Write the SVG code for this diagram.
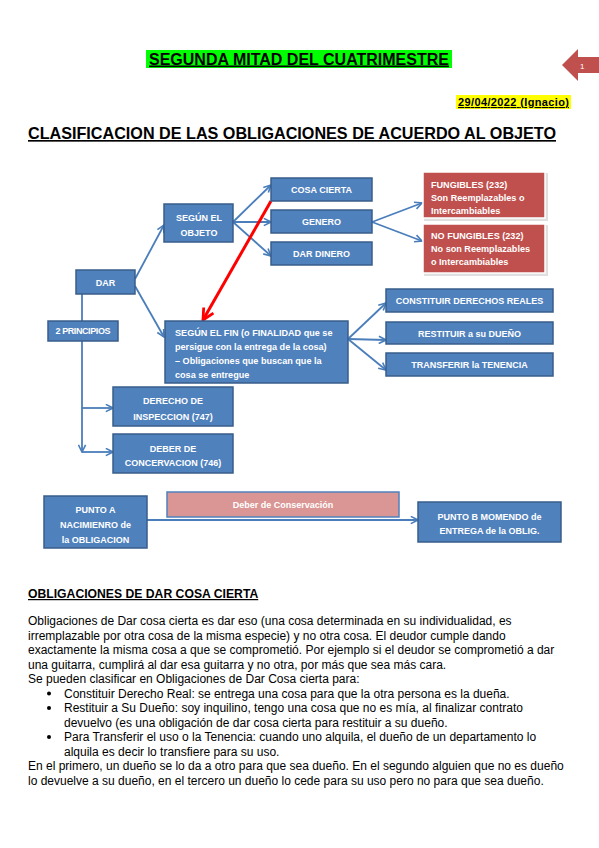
<svg xmlns="http://www.w3.org/2000/svg" width="599" height="848" viewBox="0 0 599 848">
<defs>
<style>
.bx{fill:#4f81bd;stroke:#385d8a;stroke-width:1.5}
.rd{fill:#c0504d;stroke:#ffffff;stroke-width:1.5}
.bt{font-family:"Liberation Sans",Arial,sans-serif;font-weight:bold;font-size:9px;fill:#ffffff;text-anchor:middle}
.lt{font-family:"Liberation Sans",Arial,sans-serif;font-weight:bold;font-size:9.1px;fill:#ffffff}
.cn{fill:none;stroke:#4a7ebb;stroke-width:1.8}
.body{font-family:"Liberation Sans",Arial,sans-serif;font-size:12px;fill:#000000}
.hd{font-family:"Liberation Sans",Arial,sans-serif;font-weight:bold;fill:#000000;text-decoration:underline}
</style>
<marker id="ab" viewBox="0 0 10 10" refX="9" refY="5" markerWidth="9" markerHeight="9" markerUnits="userSpaceOnUse" orient="auto">
<path d="M1,1 L9,5 L1,9" fill="none" stroke="#4a7ebb" stroke-width="1.8"/>
</marker>
<marker id="ar" viewBox="0 0 10 10" refX="9" refY="5" markerWidth="14" markerHeight="14" markerUnits="userSpaceOnUse" orient="auto">
<path d="M1,1 L9,5 L1,9" fill="none" stroke="#ff0000" stroke-width="2"/>
</marker>
</defs>
<rect width="599" height="848" fill="#ffffff"/>

<g id="header">
<rect x="146" y="50" width="306" height="18" fill="#00ff00"/>
<text class="hd" x="149" y="64.5" font-size="16" textLength="300" lengthAdjust="spacingAndGlyphs">SEGUNDA MITAD DEL CUATRIMESTRE</text>
<polygon points="562,65 578,49 578,57 599,57 599,73 578,73 578,81" fill="#c0504d"/>
<text x="580" y="68.5" font-family="Liberation Sans,Arial,sans-serif" font-size="8" fill="#ffffff">1</text>
<rect x="456" y="95" width="115" height="14" fill="#ffff00"/>
<text class="hd" x="458" y="106" font-size="11" textLength="111">29/04/2022 (Ignacio)</text>
<text class="hd" x="28" y="139" font-size="16.5" textLength="528" lengthAdjust="spacingAndGlyphs">CLASIFICACION DE LAS OBLIGACIONES DE ACUERDO AL OBJETO</text>
</g>

<g id="connectors">
<line class="cn" x1="135" y1="279" x2="164" y2="225" marker-end="url(#ab)"/>
<line class="cn" x1="135" y1="286" x2="164" y2="337" marker-end="url(#ab)"/>
<line class="cn" x1="233" y1="222" x2="271" y2="185" marker-end="url(#ab)"/>
<line class="cn" x1="233" y1="222" x2="271" y2="222" marker-end="url(#ab)"/>
<line class="cn" x1="233" y1="222" x2="271" y2="256" marker-end="url(#ab)"/>
<line class="cn" x1="372" y1="222" x2="422" y2="203" marker-end="url(#ab)"/>
<line class="cn" x1="372" y1="222" x2="422" y2="241" marker-end="url(#ab)"/>
<line class="cn" x1="348" y1="339" x2="386" y2="303" marker-end="url(#ab)"/>
<line class="cn" x1="348" y1="339" x2="386" y2="340" marker-end="url(#ab)"/>
<line class="cn" x1="348" y1="339" x2="386" y2="370" marker-end="url(#ab)"/>
<line class="cn" x1="82" y1="294" x2="82" y2="452" marker-end="url(#ab)"/>
<line class="cn" x1="82" y1="408" x2="113" y2="408" marker-end="url(#ab)"/>
<line class="cn" x1="82" y1="452" x2="113" y2="452" marker-end="url(#ab)"/>
<line class="cn" x1="147" y1="520" x2="418" y2="520" marker-end="url(#ab)"/>
<line x1="271" y1="201" x2="203" y2="320" stroke="#ff0000" stroke-width="3" marker-end="url(#ar)"/>
</g>

<g id="dar"><rect class="bx" x="76" y="270" width="59" height="24"/><text class="bt" x="105.5" y="285.5">DAR</text></g>
<g id="principios"><rect class="bx" x="48" y="321" width="70" height="20"/><text class="bt" x="83" y="334" font-size="7" textLength="55">2 PRINCIPIOS</text></g>
<g id="segun-objeto"><rect class="bx" x="164" y="204" width="69" height="38"/><text class="bt" x="199" y="220.5">SEGÚN EL</text><text class="bt" x="199" y="235.5">OBJETO</text></g>
<g id="cosa-cierta"><rect class="bx" x="271" y="178" width="101" height="23"/><text class="bt" x="321.5" y="193">COSA CIERTA</text></g>
<g id="genero"><rect class="bx" x="271" y="210" width="101" height="23"/><text class="bt" x="321.5" y="225">GENERO</text></g>
<g id="dar-dinero"><rect class="bx" x="271" y="242" width="101" height="23"/><text class="bt" x="321.5" y="257">DAR DINERO</text></g>
<g id="fungibles">
<rect x="424" y="173" width="124" height="48" fill="#bfbfbf" opacity="0.5"/>
<rect class="rd" x="423" y="172" width="122" height="46"/>
<text class="lt" x="431" y="188">FUNGIBLES (232)</text>
<text class="lt" x="431" y="201">Son Reemplazables o</text>
<text class="lt" x="431" y="214">Intercambiables</text>
</g>
<g id="no-fungibles">
<rect x="424" y="225" width="124" height="51" fill="#bfbfbf" opacity="0.5"/>
<rect class="rd" x="423" y="224" width="122" height="49"/>
<text class="lt" x="431" y="239">NO FUNGIBLES (232)</text>
<text class="lt" x="431" y="252">No son Reemplazables</text>
<text class="lt" x="431" y="265">o Intercambiables</text>
</g>
<g id="segun-fin">
<rect class="bx" x="165" y="321" width="183" height="62"/>
<text class="lt" x="175" y="336">SEGÚN EL FIN (o FINALIDAD que se</text>
<text class="lt" x="175" y="350">persigue con la entrega de la cosa)</text>
<text class="lt" x="175" y="364">– Obligaciones que buscan que la</text>
<text class="lt" x="175" y="378">cosa se entregue</text>
</g>
<g id="constituir"><rect class="bx" x="386" y="289" width="167" height="23"/><text class="bt" x="469.5" y="304">CONSTITUIR DERECHOS REALES</text></g>
<g id="restituir"><rect class="bx" x="386" y="322" width="167" height="22"/><text class="bt" x="469.5" y="336.5">RESTITUIR a su DUEÑO</text></g>
<g id="transferir"><rect class="bx" x="386" y="353" width="167" height="23"/><text class="bt" x="469.5" y="368">TRANSFERIR la TENENCIA</text></g>
<g id="derecho-inspeccion"><rect class="bx" x="113" y="387" width="120" height="39"/><text class="bt" x="173" y="404">DERECHO DE</text><text class="bt" x="173" y="419.5">INSPECCION (747)</text></g>
<g id="deber-concervacion"><rect class="bx" x="113" y="434" width="120" height="39"/><text class="bt" x="173" y="451.5">DEBER DE</text><text class="bt" x="173" y="465.5">CONCERVACION (746)</text></g>
<g id="punto-a"><rect class="bx" x="44" y="496" width="103" height="52"/><text class="bt" x="95.5" y="513">PUNTO A</text><text class="bt" x="95.5" y="528">NACIMIENRO de</text><text class="bt" x="95.5" y="543">la OBLIGACION</text></g>
<g id="deber-conservacion"><rect x="167" y="492" width="232" height="25" fill="#d99694" stroke="#4f81bd" stroke-width="1.5"/><text class="bt" x="283" y="508" font-weight="normal" fill="#fdf0f0">Deber de Conservación</text></g>
<g id="punto-b"><rect class="bx" x="418" y="502" width="143" height="40"/><text class="bt" x="489.5" y="520">PUNTO B MOMENDO de</text><text class="bt" x="489.5" y="534">ENTREGA  de la OBLIG.</text></g>

<g id="texto">
<text class="hd" x="28" y="598" font-size="12.2">OBLIGACIONES DE DAR COSA CIERTA</text>
<text class="body" x="28" y="625">Obligaciones de Dar cosa cierta es dar eso (una cosa determinada en su individualidad, es</text>
<text class="body" x="28" y="639.5">irremplazable por otra cosa de la misma especie) y no otra cosa. El deudor cumple dando</text>
<text class="body" x="28" y="654">exactamente la misma cosa a que se comprometió. Por ejemplo si el deudor se comprometió a dar</text>
<text class="body" x="28" y="668.5">una guitarra, cumplirá al dar esa guitarra y no otra, por más que sea más cara.</text>
<text class="body" x="28" y="683">Se pueden clasificar en Obligaciones de Dar Cosa cierta para:</text>
<circle cx="49" cy="693.5" r="2"/>
<text class="body" x="64" y="697.5">Constituir Derecho Real: se entrega una cosa para que la otra persona es la dueña.</text>
<circle cx="49" cy="708" r="2"/>
<text class="body" x="64" y="712">Restituir a Su Dueño: soy inquilino, tengo una cosa que no es mía, al finalizar contrato</text>
<text class="body" x="64" y="726.5">devuelvo (es una obligación de dar cosa cierta para restituir a su dueño.</text>
<circle cx="49" cy="737" r="2"/>
<text class="body" x="64" y="741">Para Transferir el uso o la Tenencia: cuando uno alquila, el dueño de un departamento lo</text>
<text class="body" x="64" y="755.5">alquila es decir lo transfiere para su uso.</text>
<text class="body" x="28" y="770">En el primero, un dueño se lo da a otro para que sea dueño. En el segundo alguien que no es dueño</text>
<text class="body" x="28" y="784.5">lo devuelve a su dueño, en el tercero un dueño lo cede para su uso pero no para que sea dueño.</text>
</g>
</svg>
